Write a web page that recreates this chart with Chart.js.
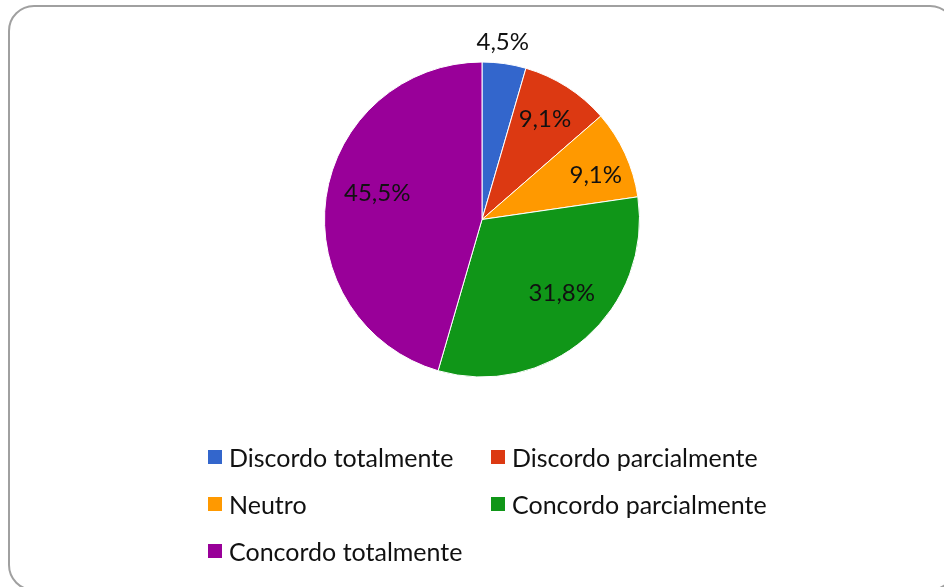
<!DOCTYPE html>
<html>
<head>
<meta charset="utf-8">
<script src="https://cdn.jsdelivr.net/npm/chart.js@4"></script>
<style>
  html, body { margin: 0; padding: 0; background: #fff; overflow: hidden; }
  #wrap { position: relative; width: 944px; height: 587px; }
  #frame {
    position: absolute; left: 8px; top: 5px; width: 944px; height: 582px;
    border: 2px solid #a0a0a0; border-radius: 26px; pointer-events: none;
  }
  #pie { position: absolute; left: 0; top: 0; }
  .legend { position: absolute; font-family: Lato, sans-serif; font-size: 25px; color: #111; }
  .legend .item { position: absolute; white-space: nowrap; display: flex; align-items: center; }
  .legend .box { width: 14px; height: 14px; margin-right: 7px; }
</style>
</head>
<body>
<div id="wrap">
  <canvas id="pie" width="944" height="587"></canvas>
  <div id="frame"></div>
  <div class="legend" id="legend"></div>
</div>
<script>
// Dados do gráfico
const labels = ['Discordo totalmente', 'Discordo parcialmente', 'Neutro', 'Concordo parcialmente', 'Concordo totalmente'];
const values = [4.5, 9.1, 9.1, 31.8, 45.5];
const colors = ['#3366CC', '#DC3912', '#FF9900', '#109618', '#990099'];

// posição dos rótulos: distância (fração do raio) e ajuste de ângulo (graus)
const labelDist = [1.13, 0.75, 0.775, 0.69, 0.686];
const labelShift = [-1.4, -0.4, 3.4, -6.2, 6];

const pieLabels = {
  id: 'pieLabels',
  afterDatasetsDraw(chart) {
    const ctx = chart.ctx;
    const meta = chart.getDatasetMeta(0);
    const total = values.reduce((a, b) => a + b, 0);
    ctx.save();
    ctx.font = '24px Lato, sans-serif';
    ctx.fillStyle = '#111';
    ctx.textAlign = 'center';
    ctx.textBaseline = 'middle';
    meta.data.forEach((arc, i) => {
      const p = arc.getProps(['x', 'y', 'startAngle', 'endAngle', 'outerRadius'], true);
      const mid = (p.startAngle + p.endAngle) / 2 + labelShift[i] * Math.PI / 180;
      const r = p.outerRadius * labelDist[i];
      const txt = (values[i] / total * 100).toFixed(1).replace('.', ',') + '%';
      ctx.fillText(txt, p.x + Math.cos(mid) * r, p.y + Math.sin(mid) * r);
    });
    ctx.restore();
  }
};

new Chart(document.getElementById('pie'), {
  type: 'pie',
  data: {
    labels: labels,
    datasets: [{
      data: values,
      backgroundColor: colors,
      borderColor: '#ffffff',
      borderWidth: 1
    }]
  },
  options: {
    responsive: false,
    animation: false,
    layout: { padding: { top: 61, bottom: 209, left: 324, right: 304 } },
    plugins: {
      legend: { display: false },
      tooltip: { enabled: false }
    }
  },
  plugins: [pieLabels]
});

// legenda em duas colunas
const legend = document.getElementById('legend');
const colX = [208, 491];
const rowY = [457, 504, 551];
labels.forEach((lab, i) => {
  const item = document.createElement('div');
  item.className = 'item';
  item.style.left = colX[i % 2] + 'px';
  item.style.top = (rowY[Math.floor(i / 2)] - 16) + 'px';
  item.style.height = '32px';
  item.innerHTML = `<span class="box" style="background:${colors[i]}"></span><span>${lab}</span>`;
  legend.appendChild(item);
});
</script>
</body>
</html>
